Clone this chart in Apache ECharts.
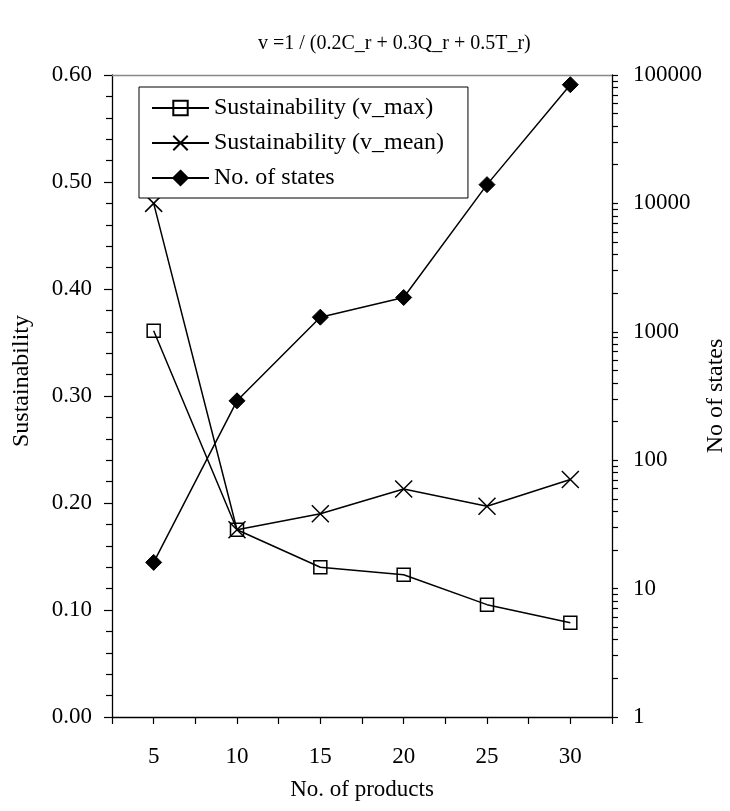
<!DOCTYPE html>
<html>
<head>
<meta charset="utf-8">
<script src="https://cdn.jsdelivr.net/npm/echarts@6/dist/echarts.min.js"></script>
<style>
html,body{margin:0;padding:0;background:#fff;}
#chart{width:730px;height:811px;}
</style>
</head>
<body>
<div id="chart"></div>
<script>
const products = [5, 10, 15, 20, 25, 30];
const vMax = [0.361, 0.175, 0.140, 0.133, 0.105, 0.088];
const vMean = [0.480, 0.175, 0.190, 0.213, 0.197, 0.222];
const states = [16, 290, 1300, 1850, 14000, 84000];
const leftTicks = [0.00, 0.10, 0.20, 0.30, 0.40, 0.50, 0.60];
const rightTicks = [1, 10, 100, 1000, 10000, 100000];
const titleText = 'v =1 / (0.2C_r + 0.3Q_r + 0.5T_r)';
const seriesNames = ['Sustainability (v_max)', 'Sustainability (v_mean)', 'No. of states'];

const FONT = "'Liberation Serif', 'Times New Roman', serif";
const logMinor = [];
for (let d = 1; d < 100000; d *= 10) {
  for (let k = 1; k < 10; k++) logMinor.push(d * k);
}
logMinor.push(100000);

const pairs = arr => arr.map((v, i) => [products[i], v]);

const chart = echarts.init(document.getElementById('chart'), null, {renderer: 'canvas'});
chart.setOption({
  animation: false,
  backgroundColor: '#fff',
  textStyle: {fontFamily: FONT, color: '#000'},
  title: {
    text: titleText, left: 253, top: 29,
    textStyle: {fontFamily: FONT, fontSize: 20, fontWeight: 'normal', color: '#000'}
  },
  legend: {
    orient: 'vertical', left: 139, top: 87,
    padding: [9, 24, 8, 12], itemGap: 11,
    itemWidth: 57, itemHeight: 18,
    borderColor: '#000', borderWidth: 1, backgroundColor: '#fff',
    textStyle: {fontFamily: FONT, fontSize: 24, color: '#000'},
    data: seriesNames
  },
  grid: {left: 112, right: 118, top: 75, bottom: 94, containLabel: false, outerBoundsMode: 'none'},
  xAxis: [{
    type: 'value', min: 2.5, max: 32.5, interval: 2.5,
    name: 'No. of products', nameLocation: 'middle', nameGap: 61, nameMoveOverlap: false,
    nameTextStyle: {fontFamily: FONT, fontSize: 23, color: '#000'},
    axisLine: {show: true, onZero: false, lineStyle: {color: '#000', width: 1.3}},
    axisTick: {show: true, length: 7, lineStyle: {color: '#000', width: 1.2}},
    axisLabel: {
      margin: 28, fontFamily: FONT, fontSize: 23, color: '#000',
      formatter: v => (Math.abs(v % 5) < 1e-9 && v >= 5 && v <= 30) ? String(v) : ''
    },
    splitLine: {show: false}
  }, {
    type: 'value', position: 'top', min: 2.5, max: 32.5,
    axisLine: {show: true, onZero: false, lineStyle: {color: '#888', width: 1.3}},
    axisTick: {show: false}, axisLabel: {show: false}, splitLine: {show: false}
  }],
  yAxis: [{
    type: 'value', min: 0, max: 0.6, interval: 0.1,
    name: 'Sustainability', nameLocation: 'middle', nameGap: 78, nameMoveOverlap: false,
    nameTextStyle: {fontFamily: FONT, fontSize: 24, color: '#000', padding: [0, 0, 0, 30]},
    axisLine: {show: true, onZero: false, lineStyle: {color: '#000', width: 1.3}},
    axisTick: {show: true, length: 8, lineStyle: {color: '#000', width: 1.2}},
    minorTick: {show: true, splitNumber: 5, length: 6, lineStyle: {color: '#000', width: 1.2}},
    axisLabel: {
      margin: 20, fontFamily: FONT, fontSize: 23, color: '#000',
      customValues: leftTicks,
      formatter: v => v.toFixed(2)
    },
    splitLine: {show: false}
  }, {
    type: 'log', logBase: 10, min: 1, max: 100000, position: 'right',
    name: 'No of states', nameLocation: 'middle', nameGap: 92, nameMoveOverlap: false,
    nameTextStyle: {fontFamily: FONT, fontSize: 24, color: '#000'},
    axisLine: {show: true, onZero: false, lineStyle: {color: '#000', width: 1.3}},
    axisTick: {show: true, length: 6, customValues: logMinor, lineStyle: {color: '#000', width: 1.2}},
    axisLabel: {
      margin: 21, fontFamily: FONT, fontSize: 23, color: '#000',
      customValues: rightTicks,
      formatter: v => String(Math.round(v))
    },
    splitLine: {show: false}
  }],
  series: [{
    name: seriesNames[0], type: 'line', xAxisIndex: 0, yAxisIndex: 0,
    data: pairs(vMax),
    symbol: 'rect', symbolSize: 13,
    lineStyle: {color: '#000', width: 1.5},
    itemStyle: {color: 'rgba(0,0,0,0)', borderColor: '#000', borderWidth: 1.5}
  }, {
    name: seriesNames[1], type: 'line', xAxisIndex: 0, yAxisIndex: 0,
    data: pairs(vMean),
    symbol: 'path://M0,0L10,10M10,0L0,10', symbolSize: 17,
    lineStyle: {color: '#000', width: 1.5},
    itemStyle: {color: 'rgba(0,0,0,0)', borderColor: '#000', borderWidth: 1.5}
  }, {
    name: seriesNames[2], type: 'line', xAxisIndex: 0, yAxisIndex: 1,
    data: pairs(states),
    symbol: 'diamond', symbolSize: 16,
    lineStyle: {color: '#000', width: 1.5},
    itemStyle: {color: '#000', borderColor: '#000', borderWidth: 1}
  }]
});
</script>
</body>
</html>
